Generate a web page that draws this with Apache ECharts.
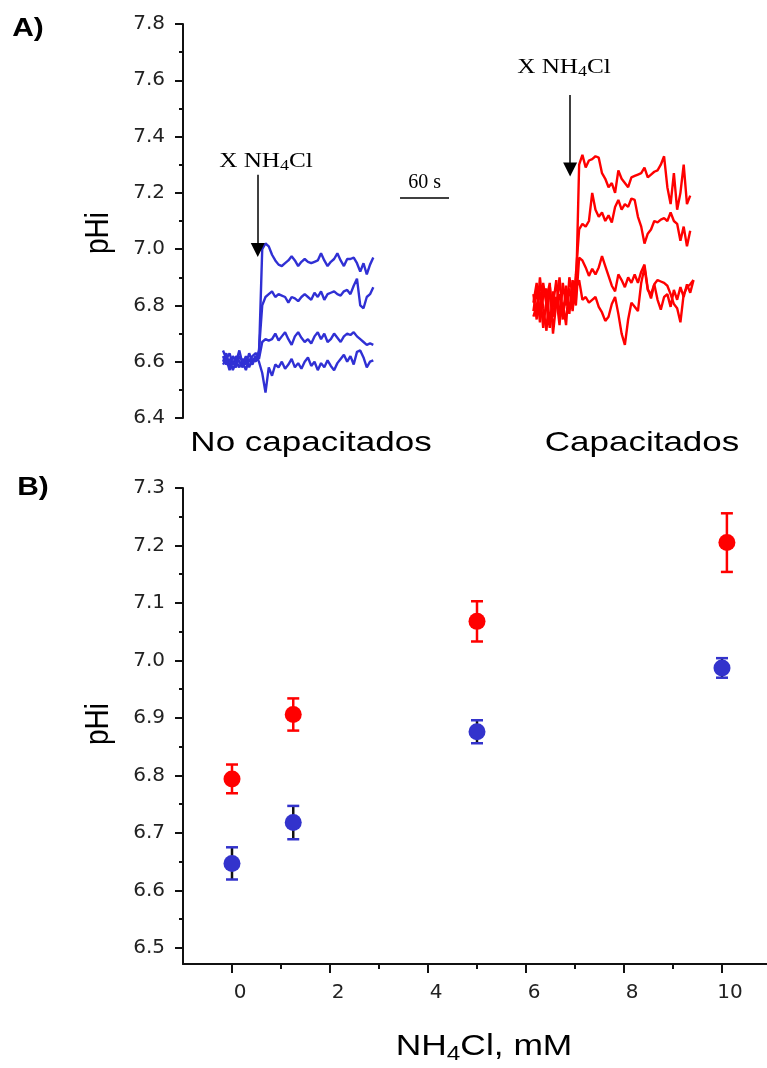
<!DOCTYPE html>
<html>
<head>
<meta charset="utf-8">
<script src="https://cdn.jsdelivr.net/npm/echarts@6/dist/echarts.min.js"></script>
<style>
  html, body { margin: 0; padding: 0; background: #ffffff; }
  #chart { width: 767px; height: 1068px; }
</style>
</head>
<body>
<div id="chart"></div>
<script>
// ---------- Panel A: pHi recordings (time in s) ----------
const blueTime = [0, 4, 8, 12, 16, 20, 24, 28, 32, 36, 40, 44, 48, 52, 56, 60, 64, 68, 72, 76,
  80, 84, 88, 92, 96, 100, 104, 108, 112, 116, 120, 124, 128, 132, 136, 140, 144, 148, 152, 156,
  160, 164, 168, 172, 176, 180, 184];

const blueTrace1 = [6.64, 6.61, 6.63, 6.59, 6.62, 6.60, 6.58, 6.61, 6.60, 6.62, 6.63, 6.62,
  7.00, 7.02, 7.01, 6.98, 6.96, 6.945, 6.94, 6.95, 6.96, 6.975,
  6.96, 6.94, 6.955, 6.965, 6.955, 6.95, 6.955, 6.96, 6.985, 6.96,
  6.94, 6.955, 6.965, 6.985, 6.96, 6.94, 6.965, 6.965, 6.97, 6.95,
  6.92, 6.95, 6.91, 6.945, 6.97];
const blueTrace2 = [6.60, 6.63, 6.58, 6.62, 6.60, 6.64, 6.59, 6.62, 6.58, 6.61, 6.60, 6.64,
  6.80, 6.83, 6.84, 6.85, 6.83, 6.84, 6.835, 6.83, 6.81, 6.83,
  6.825, 6.815, 6.83, 6.84, 6.83, 6.82, 6.845, 6.83, 6.85, 6.82,
  6.84, 6.845, 6.85, 6.84, 6.835, 6.85, 6.855, 6.84, 6.87, 6.895,
  6.80, 6.79, 6.83, 6.84, 6.865];
const blueTrace3 = [6.62, 6.59, 6.61, 6.57, 6.60, 6.58, 6.61, 6.59, 6.63, 6.60, 6.62, 6.61,
  6.67, 6.68, 6.675, 6.68, 6.70, 6.675, 6.69, 6.705, 6.68, 6.66,
  6.69, 6.705, 6.685, 6.67, 6.68, 6.665, 6.69, 6.705, 6.68, 6.70,
  6.67, 6.68, 6.70, 6.685, 6.67, 6.69, 6.70, 6.695, 6.705, 6.69,
  6.68, 6.67, 6.66, 6.665, 6.66];
const blueTrace4 = [6.59, 6.61, 6.57, 6.60, 6.58, 6.62, 6.60, 6.57, 6.61, 6.59, 6.62, 6.60,
  6.56, 6.49, 6.58, 6.55, 6.59, 6.58, 6.60, 6.575, 6.59, 6.61,
  6.58, 6.595, 6.575, 6.60, 6.615, 6.585, 6.60, 6.57, 6.595, 6.58,
  6.605, 6.585, 6.57, 6.595, 6.61, 6.625, 6.60, 6.62, 6.59, 6.635,
  6.64, 6.615, 6.58, 6.60, 6.605];

const redTime = [380, 384, 388, 392, 396, 400, 404, 408, 412, 416, 420, 424, 428, 432,
  436, 440, 444, 448, 452, 456, 460, 464, 468, 472, 476, 480, 484, 488, 492, 496,
  500, 504, 508, 512, 516, 520, 524, 528, 532, 536, 540, 544, 548, 552,
  556, 560, 564, 568, 572, 576];

const redTrace1 = [6.78, 6.86, 6.74, 6.88, 6.80, 6.72, 6.85, 6.79, 6.90, 6.76, 6.84, 6.77, 6.89, 6.82,
  7.30, 7.335, 7.29, 7.315, 7.32, 7.33, 7.325, 7.27, 7.25, 7.22, 7.235, 7.20,
  7.28, 7.25, 7.235, 7.22, 7.255, 7.26, 7.265, 7.27, 7.29, 7.255, 7.265, 7.275,
  7.28, 7.30, 7.33, 7.22, 7.16, 7.27, 7.14, 7.20, 7.30, 7.16, 7.19, null];
const redTrace2 = [6.84, 6.75, 6.90, 6.79, 6.71, 6.87, 6.76, 6.83, 6.73, 6.88, 6.80, 6.86, 6.78, 6.91,
  7.07, 7.09, 7.08, 7.10, 7.20, 7.14, 7.115, 7.13, 7.10, 7.12, 7.095, 7.15,
  7.175, 7.14, 7.16, 7.15, 7.18, 7.175, 7.115, 7.08, 7.02, 7.055, 7.07, 7.10,
  7.095, 7.105, 7.11, 7.10, 7.13, 7.10, 7.09, 7.03, 7.08, 7.01, 7.065, null];
const redTrace3 = [6.81, 6.88, 6.77, 6.83, 6.86, 6.74, 6.80, 6.89, 6.77, 6.81, 6.73, 6.90, 6.84, 6.80,
  6.97, 6.96, 6.935, 6.905, 6.93, 6.91, 6.935, 6.975, 6.94, 6.905, 6.87, 6.85,
  6.91, 6.89, 6.865, 6.90, 6.88, 6.91, 6.88, 6.92, 6.945, 6.86, 6.825, 6.875,
  6.89, 6.885, 6.88, 6.87, 6.84, 6.805, 6.79, 6.74, 6.84, 6.865, 6.875, 6.89];
const redTrace4 = [6.76, 6.80, 6.85, 6.72, 6.82, 6.88, 6.70, 6.81, 6.84, 6.75, 6.87, 6.79, 6.83, 6.86,
  6.89, 6.82, 6.83, 6.81, 6.82, 6.83, 6.795, 6.775, 6.745, 6.76, 6.805, 6.83,
  6.77, 6.70, 6.66, 6.75, 6.81, 6.795, 6.78, 6.88, 6.935, 6.855, 6.84, 6.875,
  6.82, 6.785, 6.83, 6.84, 6.795, 6.855, 6.82, 6.865, 6.83, 6.875, 6.845, 6.89];

// NH4Cl additions (time, arrow start pHi, arrowhead centre pHi) and the 60 s scale bar
const additionBlue = [42.5, 7.264, 6.997];
const additionRed = [425, 7.548, 7.283];
const scaleBar = [216.7, 276.7, 7.183];

const panelATicks = [6.4, 7.8, 0.2];

// ---------- Panel B: steady-state pHi vs NH4Cl ----------
const concBlue = [0, 1.25, 5, 10];
const phiBlue = [6.647, 6.718, 6.876, 6.987];
const errBlue = [0.028, 0.029, 0.020, 0.017];

const concRed = [0, 1.25, 5, 10.1];
const phiRed = [6.794, 6.906, 7.068, 7.205];
const errRed = [0.025, 0.028, 0.035, 0.051];

const xMajor = [0, 2, 4, 6, 8, 10];
const xMinor = [1, 3, 5, 7, 9];
const yMajor = [6.5, 6.6, 6.7, 6.8, 6.9, 7.0, 7.1, 7.2, 7.3];
const yMinor = [6.55, 6.65, 6.75, 6.85, 6.95, 7.05, 7.15, 7.25];

// ---------- styling ----------
const AX = '#111111';
const LBL = '#222222';
const BLUE_TRACE = '#3030d4';
const RED_TRACE = '#ff0000';
const BLUE_DOT = '#3333cc';
const RED_DOT = '#ff0000';
const SANS = '"Liberation Sans", Arial, sans-serif';
const SERIF = '"Liberation Serif", "Times New Roman", serif';

const zip = (xs, ys) => xs.map((x, i) => [x, ys[i]]);

const labelStyle = {
  fontFamily: '"DejaVu Sans", sans-serif',
  fontSize: 20,
  color: LBL
};

function traceSeries(name, time, values, color) {
  return {
    name: name,
    type: 'line',
    xAxisIndex: 0,
    yAxisIndex: 0,
    data: zip(time, values),
    showSymbol: false,
    symbol: 'none',
    connectNulls: false,
    lineStyle: { color: color, width: 2.4 },
    silent: true,
    z: 2
  };
}

function errorSeries(xs, ys, es, barColor, capColor) {
  return {
    type: 'custom',
    xAxisIndex: 1,
    yAxisIndex: 1,
    data: xs.map((x, i) => [x, ys[i] - es[i], ys[i] + es[i]]),
    renderItem: function (params, api) {
      const lo = api.coord([api.value(0), api.value(1)]);
      const hi = api.coord([api.value(0), api.value(2)]);
      const w = 6;
      return {
        type: 'group',
        children: [
          { type: 'line', shape: { x1: lo[0], y1: lo[1], x2: hi[0], y2: hi[1] },
            style: { stroke: barColor, lineWidth: 2.5 } },
          { type: 'line', shape: { x1: lo[0] - w, y1: lo[1], x2: lo[0] + w, y2: lo[1] },
            style: { stroke: capColor, lineWidth: 2.5 } },
          { type: 'line', shape: { x1: hi[0] - w, y1: hi[1], x2: hi[0] + w, y2: hi[1] },
            style: { stroke: capColor, lineWidth: 2.5 } }
        ]
      };
    },
    silent: true,
    z: 3
  };
}

function text(str, x, y, font, opts) {
  opts = opts || {};
  return {
    type: 'text',
    x: x,
    y: y,
    rotation: opts.rotation || 0,
    scaleX: opts.scaleX || 1,
    scaleY: opts.scaleY || 1,
    silent: true,
    style: {
      text: str,
      font: font,
      fill: opts.fill || '#000000',
      align: opts.align || 'center',
      verticalAlign: opts.verticalAlign || 'middle',
      rich: opts.rich
    }
  };
}

const chart = echarts.init(document.getElementById('chart'), null, { renderer: 'canvas' });

const arrowLine = { color: '#000000', width: 1.5, type: 'solid' };

const option = {
  animation: false,
  backgroundColor: '#ffffff',
  grid: [
    { left: 183, top: 24, right: 0, height: 394, outerBoundsMode: 'none', containLabel: false },
    { left: 183, top: 488, right: -4, height: 476, outerBoundsMode: 'none', containLabel: false }
  ],
  xAxis: [
    { gridIndex: 0, type: 'value', min: -49, max: 666, show: false, axisLine: { onZero: false } },
    {
      gridIndex: 1, type: 'value', min: -1, max: 11, position: 'bottom',
      axisLine: { show: true, onZero: false, lineStyle: { color: AX, width: 2 } },
      axisTick: { show: true, customValues: xMajor, length: 9, lineStyle: { color: AX, width: 2 } },
      axisLabel: Object.assign({ customValues: xMajor, margin: 19, padding: [0, 0, 0, 16] }, labelStyle),
      splitLine: { show: false }
    },
    {
      gridIndex: 1, type: 'value', min: -1, max: 11, position: 'bottom',
      axisLine: { show: false, onZero: false },
      axisTick: { show: true, customValues: xMinor, length: 5, lineStyle: { color: AX, width: 2 } },
      axisLabel: { show: false },
      splitLine: { show: false }
    }
  ],
  yAxis: [
    {
      gridIndex: 0, type: 'value', position: 'left',
      min: panelATicks[0], max: panelATicks[1], interval: panelATicks[2],
      axisLine: { show: true, onZero: false, lineStyle: { color: AX, width: 2 } },
      axisTick: { show: true, length: 8, lineStyle: { color: AX, width: 2 } },
      minorTick: { show: true, splitNumber: 2, length: 4, lineStyle: { color: AX, width: 2 } },
      minorSplitLine: { show: false },
      splitLine: { show: false },
      axisLabel: Object.assign({ margin: 18, formatter: v => v.toFixed(1) }, labelStyle)
    },
    {
      gridIndex: 1, type: 'value', min: 6.472, max: 7.3, position: 'left',
      axisLine: { show: true, onZero: false, lineStyle: { color: AX, width: 2 } },
      axisTick: { show: true, customValues: yMajor, length: 8, lineStyle: { color: AX, width: 2 } },
      axisLabel: Object.assign({ customValues: yMajor, margin: 18, formatter: v => v.toFixed(1) }, labelStyle),
      splitLine: { show: false }
    },
    {
      gridIndex: 1, type: 'value', min: 6.472, max: 7.3, position: 'left',
      axisLine: { show: false, onZero: false },
      axisTick: { show: true, customValues: yMinor, length: 4, lineStyle: { color: AX, width: 2 } },
      axisLabel: { show: false },
      splitLine: { show: false }
    }
  ],
  series: [
    Object.assign(traceSeries('No capacitados 1', blueTime, blueTrace1, BLUE_TRACE), {
      markLine: {
        silent: true,
        symbol: ['none', 'triangle'],
        symbolSize: [14, 14],
        label: { show: false },
        lineStyle: arrowLine,
        emphasis: { disabled: true },
        data: [
          [{ coord: [additionBlue[0], additionBlue[1]] }, { coord: [additionBlue[0], additionBlue[2]] }],
          [{ coord: [additionRed[0], additionRed[1]] }, { coord: [additionRed[0], additionRed[2]] }],
          [
            { coord: [scaleBar[0], scaleBar[2]], symbol: 'none' },
            { coord: [scaleBar[1], scaleBar[2]], symbol: 'none',
              label: { show: true, position: 'middle', formatter: '60 s', fontFamily: SERIF,
                       fontSize: 20, color: '#000', distance: 5 } }
          ]
        ]
      }
    }),
    traceSeries('No capacitados 2', blueTime, blueTrace2, BLUE_TRACE),
    traceSeries('No capacitados 3', blueTime, blueTrace3, BLUE_TRACE),
    traceSeries('No capacitados 4', blueTime, blueTrace4, BLUE_TRACE),
    traceSeries('Capacitados 1', redTime, redTrace1, RED_TRACE),
    traceSeries('Capacitados 2', redTime, redTrace2, RED_TRACE),
    traceSeries('Capacitados 3', redTime, redTrace3, RED_TRACE),
    traceSeries('Capacitados 4', redTime, redTrace4, RED_TRACE),

    errorSeries(concRed, phiRed, errRed, RED_DOT, RED_DOT),
    errorSeries(concBlue, phiBlue, errBlue, '#111111', BLUE_DOT),
    {
      name: 'Capacitados', type: 'scatter', xAxisIndex: 1, yAxisIndex: 1,
      data: zip(concRed, phiRed), symbol: 'circle', symbolSize: 17,
      itemStyle: { color: RED_DOT, opacity: 1 }, silent: true, z: 4
    },
    {
      name: 'No capacitados', type: 'scatter', xAxisIndex: 1, yAxisIndex: 1,
      data: zip(concBlue, phiBlue), symbol: 'circle', symbolSize: 17,
      itemStyle: { color: BLUE_DOT, opacity: 1 }, silent: true, z: 4
    }
  ],
  graphic: [
    text('A)', 28, 29, 'bold 26px ' + SANS, { scaleX: 1.15 }),
    text('B)', 33, 488, 'bold 26px ' + SANS, { scaleX: 1.15 }),
    text('pHi', 99, 233, '28px ' + SANS, { rotation: Math.PI / 2, scaleY: 1.2 }),
    text('pHi', 99, 724, '28px ' + SANS, { rotation: Math.PI / 2, scaleY: 1.2 }),
    text('No capacitados', 311, 443, '28px ' + SANS, { scaleX: 1.25 }),
    text('Capacitados', 642, 443, '28px ' + SANS, { scaleX: 1.25 }),
    text('{n|X NH}{s|4}{n|Cl}', 266, 161, '20px ' + SERIF, {
      scaleX: 1.2,
      rich: { n: { font: '21px ' + SERIF }, s: { font: '15px ' + SERIF, padding: [10, 0, 0, 0] } }
    }),
    text('{n|X NH}{s|4}{n|Cl}', 564, 67, '20px ' + SERIF, {
      scaleX: 1.2,
      rich: { n: { font: '21px ' + SERIF }, s: { font: '15px ' + SERIF, padding: [10, 0, 0, 0] } }
    }),
    text('{n|NH}{s|4}{n|Cl, mM}', 484, 1047, '29px ' + SANS, {
      scaleX: 1.22,
      rich: { n: { font: '29px ' + SANS }, s: { font: '20px ' + SANS, padding: [14, 0, 0, 0] } }
    })
  ]
};

chart.setOption(option);
</script>
</body>
</html>
